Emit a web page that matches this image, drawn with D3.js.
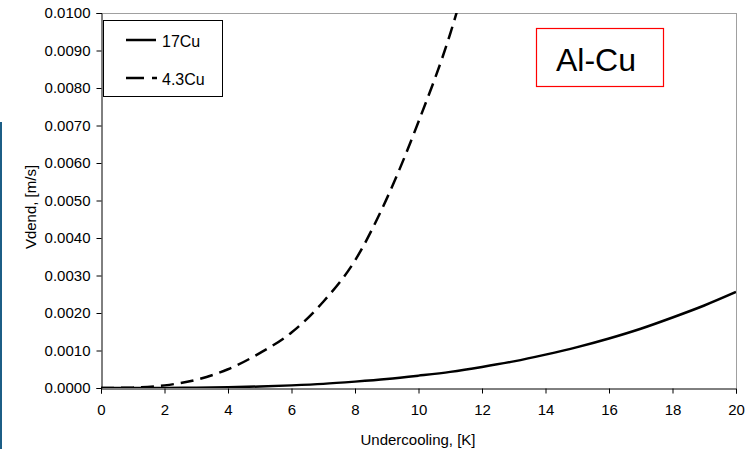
<!DOCTYPE html>
<html><head><meta charset="utf-8">
<script src="https://cdn.jsdelivr.net/npm/d3@7"></script>
<style>body{margin:0;background:#fff}svg{display:block}text{font-family:"Liberation Sans",Arial,sans-serif}</style>
</head><body>
<svg id="c" width="745" height="449"></svg>
<script>
const xTicks = [0,2,4,6,8,10,12,14,16,18,20];
const yTicks = [0,0.001,0.002,0.003,0.004,0.005,0.006,0.007,0.008,0.009,0.010];
const series17Cu_x = [0,1,2,3,4,5,6,7,8,9,10,11,12,13,14,15,16,17,18,19,20];
const series17Cu_y = [0,0.0000003,0.000003,0.000009,0.00002,0.00004,0.00007,0.00011,0.00017,0.00024,0.00033,0.00043,0.00056,0.00071,0.00089,0.00109,0.00132,0.00158,0.00188,0.00220,0.00256];
const series43Cu_x = [0,1,2,3,4,5,6,7,8,9,10,11,11.25];
const series43Cu_y = [0,0.00001,0.00007,0.00022,0.00050,0.00093,0.00148,0.00230,0.00340,0.00505,0.00710,0.00945,0.01015];
const legendLabels = ["17Cu","4.3Cu"];

const svg = d3.select("#c");
const m = {l:101, r:736, t:13, b:388};
const x = d3.scaleLinear().domain([0,20]).range([m.l,m.r]);
const y = d3.scaleLinear().domain([0,0.01]).range([m.b,m.t]);
const FS = 15;

svg.append("rect").attr("x",0).attr("y",122).attr("width",2).attr("height",327).attr("fill","#1c5e86");

svg.append("line").attr("x1",m.l).attr("x2",m.r).attr("y1",m.t+0.5).attr("y2",m.t+0.5).attr("stroke","#a0a0a0");
svg.append("line").attr("x1",m.r+0.5).attr("x2",m.r+0.5).attr("y1",m.t).attr("y2",m.b).attr("stroke","#a0a0a0");

const xa = svg.append("g").attr("transform",`translate(0,${m.b+0.5})`)
  .call(d3.axisBottom(x).tickValues(xTicks).tickSize(5).tickPadding(11).tickFormat(d3.format("d")));
const ya = svg.append("g").attr("transform",`translate(${m.l+0.5},0)`)
  .call(d3.axisLeft(y).tickValues(yTicks).tickSize(5).tickPadding(6).tickFormat(d3.format(".4f")));
[xa,ya].forEach(a=>{
  a.attr("font-size",FS).attr("font-family","Liberation Sans, Arial, sans-serif");
  a.selectAll("path").attr("stroke","#000");
  a.selectAll("line").attr("stroke","#000");
  a.selectAll("text").attr("fill","#000");
});

svg.append("clipPath").attr("id","clip").append("rect").attr("x",m.l).attr("y",m.t).attr("width",m.r-m.l).attr("height",m.b-m.t);
const line = d3.line().x(d=>x(d[0])).y(d=>y(d[1])).curve(d3.curveMonotoneX);
const g = svg.append("g").attr("clip-path","url(#clip)");
g.append("path").datum(series17Cu_x.map((v,i)=>[v,series17Cu_y[i]]))
  .attr("d",line).attr("fill","none").attr("stroke","#000").attr("stroke-width",2.5);
g.append("path").datum(series43Cu_x.map((v,i)=>[v,series43Cu_y[i]]))
  .attr("d",line).attr("fill","none").attr("stroke","#000").attr("stroke-width",2.5).attr("stroke-dasharray","13,7");

svg.append("text").attr("x",418).attr("y",445).attr("text-anchor","middle").attr("font-size",FS).text("Undercooling, [K]");
svg.append("text").attr("transform","translate(36,207) rotate(-90)").attr("text-anchor","middle").attr("font-size",FS).text("Vdend, [m/s]");

svg.append("rect").attr("x",103.5).attr("y",20.5).attr("width",119).attr("height",76).attr("fill","#fff").attr("stroke","#000");
const ly = [40,78];
svg.append("line").attr("x1",126).attr("x2",156).attr("y1",ly[0]).attr("y2",ly[0]).attr("stroke","#000").attr("stroke-width",2.5);
svg.append("line").attr("x1",126).attr("x2",157).attr("y1",ly[1]).attr("y2",ly[1]).attr("stroke","#000").attr("stroke-width",2.5).attr("stroke-dasharray","18,8");
legendLabels.forEach((t,i)=>svg.append("text").attr("x",162).attr("y",ly[i]+6.5).attr("font-size",16).text(t));

svg.append("rect").attr("x",536.5).attr("y",28.5).attr("width",127).attr("height",58).attr("fill","#fff").attr("stroke","#ff0000").attr("stroke-width",1.2);
svg.append("text").attr("x",596).attr("y",70.5).attr("text-anchor","middle").attr("font-size",32).text("Al-Cu");
</script>
</body></html>
